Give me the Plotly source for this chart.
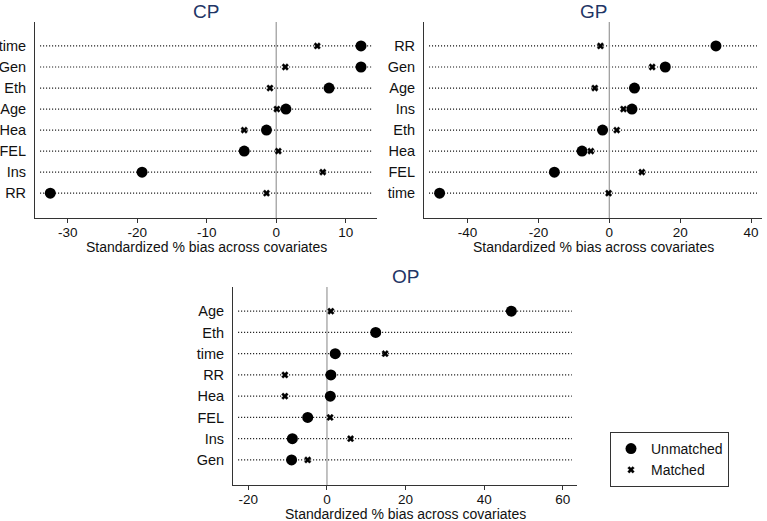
import plotly.graph_objects as go

# ---- data ----
cp_vars = ["time", "Gen", "Eth", "Age", "Hea", "FEL", "Ins", "RR"]
cp_unmatched = [12.2, 12.2, 7.6, 1.4, -1.4, -4.6, -19.3, -32.5]
cp_matched = [5.9, 1.3, -0.9, 0.1, -4.6, 0.3, 6.7, -1.4]

gp_vars = ["RR", "Gen", "Age", "Ins", "Eth", "Hea", "FEL", "time"]
gp_unmatched = [30.1, 15.8, 7.1, 6.4, -1.9, -7.7, -15.5, -47.9]
gp_matched = [-2.5, 12.1, -4.1, 4.0, 2.1, -5.2, 9.2, -0.2]

op_vars = ["Age", "Eth", "time", "RR", "Hea", "FEL", "Ins", "Gen"]
op_unmatched = [46.9, 12.4, 2.1, 1.0, 0.85, -4.9, -8.8, -9.0]
op_matched = [1.0, 12.4, 14.8, -10.7, -10.7, 0.8, 6.0, -4.9]

cp_ticks = [-30, -20, -10, 0, 10]
gp_ticks = [-40, -20, 0, 20, 40]
op_ticks = [-20, 0, 20, 40, 60]

xtitle = "Standardized % bias across covariates"
FONT = "Liberation Sans, Arial, sans-serif"
NAVY = "#1f3566"
W, H = 767, 521

panels = [
    dict(name="CP", vars=cp_vars, u=cp_unmatched, m=cp_matched, ticks=cp_ticks,
         xr=[-34.7, 14.5], px=[35, 377], py=[22, 218]),
    dict(name="GP", vars=gp_vars, u=gp_unmatched, m=gp_matched, ticks=gp_ticks,
         xr=[-52.3, 43.1], px=[424, 762], py=[22, 218]),
    dict(name="OP", vars=op_vars, u=op_unmatched, m=op_matched, ticks=op_ticks,
         xr=[-23.9, 63.6], px=[233, 577], py=[287, 485]),
]

fig = go.Figure()
shapes = []
annotations = []

for i, p in enumerate(panels):
    k = "" if i == 0 else str(i + 1)
    xa, ya = "x" + k, "y" + k
    xd = [p["px"][0] / W, p["px"][1] / W]
    yd = [1 - p["py"][1] / H, 1 - p["py"][0] / H]
    fig.add_trace(go.Scatter(
        x=p["u"], y=p["vars"], mode="markers", xaxis=xa, yaxis=ya,
        marker=dict(symbol="circle", size=11, color="black"),
        name="Unmatched", showlegend=(i == 0), legendrank=1, cliponaxis=False))
    fig.add_trace(go.Scatter(
        x=p["m"], y=p["vars"], mode="markers", xaxis=xa, yaxis=ya,
        marker=dict(symbol="x", size=6, color="black", line=dict(width=0.3, color="black")),
        name="Matched", showlegend=(i == 0), legendrank=2, cliponaxis=False))

    for v in p["vars"]:
        shapes.append(dict(type="line", xref=xa + " domain", yref=ya,
                           x0=0.015, x1=0.985, y0=v, y1=v, layer="below",
                           line=dict(color="black", width=1.2, dash="1px,2px")))
    shapes.append(dict(type="line", xref=xa, yref=ya + " domain", x0=0, x1=0,
                       y0=0, y1=1, layer="below", line=dict(color="#999999", width=1.2)))

    xaxis = dict(domain=xd, range=p["xr"], anchor=ya, automargin=False,
                 tickvals=p["ticks"], ticktext=[str(t) for t in p["ticks"]],
                 showgrid=False, zeroline=False, showline=True, linecolor="#333333",
                 linewidth=1, ticks="outside", ticklen=4, tickcolor="#333333",
                 ticklabelstandoff=-2,
                 tickfont=dict(family=FONT, size=13.5, color="#111111"))
    yaxis = dict(domain=yd, anchor=xa, type="category", automargin=False,
                 categoryorder="array", categoryarray=p["vars"],
                 range=[7 + 1.18, -1.14], showgrid=False, zeroline=False,
                 showline=True, linecolor="#333333", linewidth=1, ticks="",
                 ticklabelstandoff=5,
                 tickfont=dict(family=FONT, size=14.5, color="#111111"))
    fig.update_layout(**{"xaxis" + k: xaxis, "yaxis" + k: yaxis})

    cx = (xd[0] + xd[1]) / 2
    annotations.append(dict(text=p["name"], xref="paper", yref="paper",
                            x=cx, y=1 - (p["py"][0] - 11) / H,
                            xanchor="center", yanchor="middle", showarrow=False,
                            font=dict(family=FONT, size=19, color=NAVY)))
    annotations.append(dict(text=xtitle, xref="paper", yref="paper",
                            x=cx, y=1 - (p["py"][1] + 29) / H,
                            xanchor="center", yanchor="middle", showarrow=False,
                            font=dict(family=FONT, size=14, color="#111111")))

fig.update_layout(
    width=W, height=H,
    margin=dict(l=0, r=0, t=0, b=0, autoexpand=False),
    paper_bgcolor="white", plot_bgcolor="white",
    shapes=shapes, annotations=annotations,
    showlegend=True,
    legend=dict(x=610 / W, y=1 - 432 / H, xanchor="left", yanchor="top",
                bordercolor="#333333", borderwidth=1, bgcolor="white",
                font=dict(family=FONT, size=14, color="#111111"),
                itemwidth=30, tracegroupgap=0),
)

fig.write_html("out.html", config={"displayModeBar": False},
               post_script="document.body.style.margin='0';document.body.style.overflow='hidden';")
